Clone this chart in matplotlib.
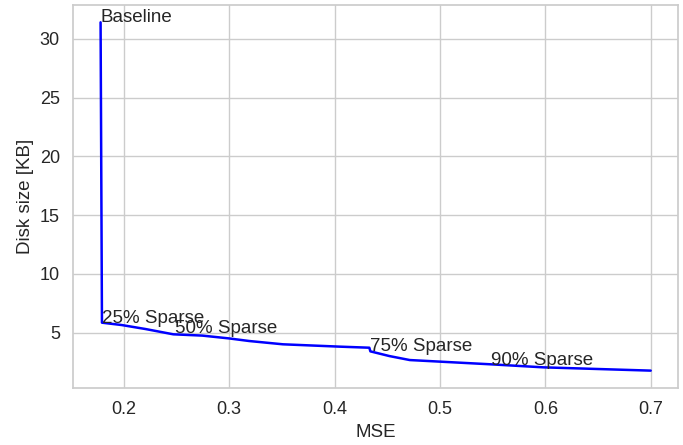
import matplotlib
matplotlib.use("Agg")
import matplotlib.pyplot as plt
import seaborn as sns

# Pareto front: MSE vs disk size
mse = [0.178, 0.1793, 0.198, 0.2206, 0.247, 0.2746, 0.300, 0.319, 0.351, 0.405,
       0.433, 0.434, 0.452, 0.4714, 0.5476, 0.598, 0.700]
disk_kb = [31.4, 5.84, 5.64, 5.30, 4.85, 4.74, 4.5, 4.28, 4.0, 3.8,
           3.71, 3.40, 3.0, 2.66, 2.3, 2.04, 1.76]

labels = ["Baseline", "25% Sparse", "50% Sparse", "75% Sparse", "90% Sparse"]
label_mse = [0.178, 0.1793, 0.2486, 0.434, 0.548]
label_kb = [31.4, 5.84, 4.93, 3.40, 2.24]

sns.set_theme(style="whitegrid")
plt.rcParams['font.family'] = ['Liberation Sans', 'DejaVu Sans']

fig, ax = plt.subplots(figsize=(6.83, 4.45), dpi=100)
ax.plot(mse, disk_kb, color="blue", linewidth=1.8)
for name, x, y in zip(labels, label_mse, label_kb):
    ax.text(x, y, name, fontsize=13.5)

ax.set_xlabel("MSE", fontsize=13.5)
ax.set_ylabel("Disk size [KB]", fontsize=13.5)
ax.tick_params(labelsize=13)

plt.subplots_adjust(left=0.107, right=0.993, top=0.989, bottom=0.128)
plt.savefig("out.png")
